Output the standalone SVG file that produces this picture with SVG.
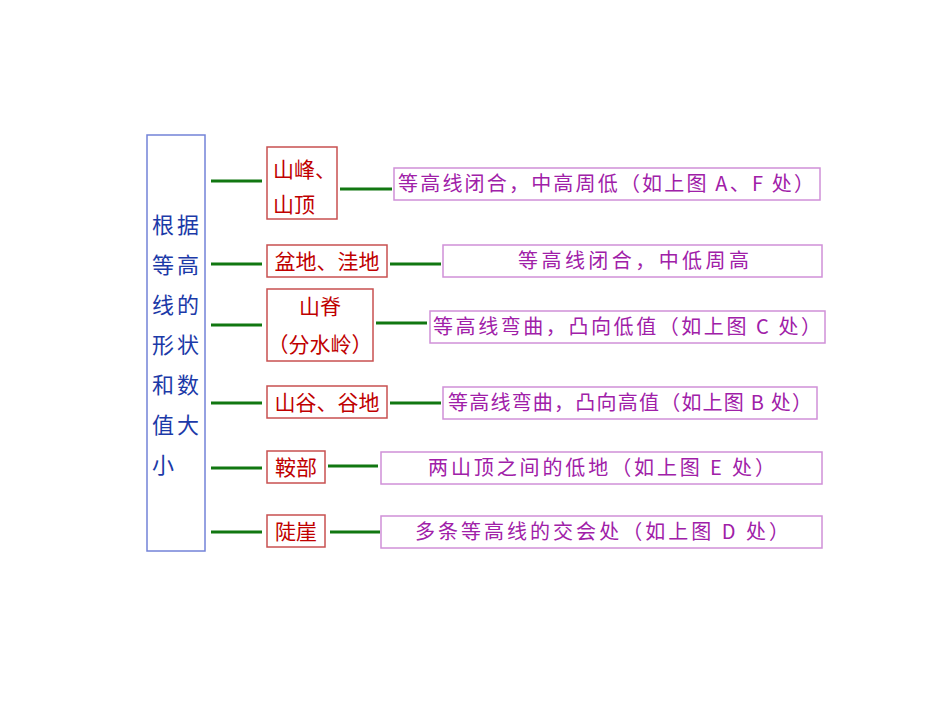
<svg xmlns="http://www.w3.org/2000/svg" width="950" height="713" viewBox="0 0 950 713">
<style>
.bg{fill:#ffffff}
.lbox{fill:#ffffff;stroke:#7383d8;stroke-width:1.5}
.ltxt{font-family:"Noto Sans CJK SC",sans-serif;font-size:22px;fill:#1c3aa8}
.rbox{fill:#ffffff;stroke:#c85050;stroke-width:1.5}
.rtxt{font-family:"Noto Sans CJK SC",sans-serif;font-size:21px;fill:#c00000;text-anchor:middle}
.pbox{fill:#ffffff;stroke:#d090d8;stroke-width:1.5}
.ptxt{font-family:"Noto Sans CJK SC",sans-serif;font-size:20px;fill:#a020a8}
.conn line{stroke:#117711;stroke-width:3}
</style>
<rect class="bg" x="0" y="0" width="950" height="713"/>
<g id="root">
<rect class="lbox" x="147" y="135" width="58" height="416"/>
<text class="ltxt" x="152" y="233" letter-spacing="3">根据</text>
<text class="ltxt" x="152" y="273" letter-spacing="3">等高</text>
<text class="ltxt" x="152" y="313" letter-spacing="3">线的</text>
<text class="ltxt" x="152" y="353" letter-spacing="3">形状</text>
<text class="ltxt" x="152" y="393" letter-spacing="3">和数</text>
<text class="ltxt" x="152" y="433" letter-spacing="3">值大</text>
<text class="ltxt" x="152" y="473" letter-spacing="3">小</text>
</g>
<g id="n1">
<rect class="rbox" x="267" y="147" width="70" height="72"/>
<text class="rtxt" x="273" y="177" style="text-anchor:start">山峰、</text>
<text class="rtxt" x="273" y="212" style="text-anchor:start">山顶</text>
</g>
<g id="n2">
<rect class="rbox" x="267" y="245" width="120" height="32"/>
<text class="rtxt" x="327" y="269">盆地、洼地</text>
</g>
<g id="n3">
<rect class="rbox" x="267" y="289" width="106" height="72"/>
<text class="rtxt" x="320" y="314">山脊</text>
<text class="rtxt" x="320" y="352">（分水岭）</text>
</g>
<g id="n4">
<rect class="rbox" x="267" y="386" width="120" height="32"/>
<text class="rtxt" x="327" y="410">山谷、谷地</text>
</g>
<g id="n5">
<rect class="rbox" x="267" y="451" width="58" height="32"/>
<text class="rtxt" x="296" y="475">鞍部</text>
</g>
<g id="n6">
<rect class="rbox" x="267" y="515" width="58" height="32"/>
<text class="rtxt" x="296" y="539">陡崖</text>
</g>
<g id="d1">
<rect class="pbox" x="394" y="168" width="426" height="32"/>
<text class="ptxt" x="398" y="191" textLength="416" lengthAdjust="spacing">等高线闭合，中高周低（如上图 A、F 处）</text>
</g>
<g id="d2">
<rect class="pbox" x="443" y="245" width="379" height="32"/>
<text class="ptxt" x="518" y="268" textLength="231" lengthAdjust="spacing">等高线闭合，中低周高</text>
</g>
<g id="d3">
<rect class="pbox" x="430" y="311" width="395" height="32"/>
<text class="ptxt" x="433" y="334" textLength="388" lengthAdjust="spacing">等高线弯曲，凸向低值（如上图 C 处）</text>
</g>
<g id="d4">
<rect class="pbox" x="443" y="387" width="374" height="32"/>
<text class="ptxt" x="448" y="410" textLength="364" lengthAdjust="spacing">等高线弯曲，凸向高值（如上图 B 处）</text>
</g>
<g id="d5">
<rect class="pbox" x="381" y="452" width="441" height="32"/>
<text class="ptxt" x="428" y="475" textLength="347" lengthAdjust="spacing">两山顶之间的低地（如上图 E 处）</text>
</g>
<g id="d6">
<rect class="pbox" x="381" y="516" width="441" height="32"/>
<text class="ptxt" x="415" y="539" textLength="374" lengthAdjust="spacing">多条等高线的交会处（如上图 D 处）</text>
</g>
<g class="conn" id="connectors">
<line x1="211" y1="181" x2="262" y2="181"/>
<line x1="211" y1="264" x2="262" y2="264"/>
<line x1="211" y1="325" x2="262" y2="325"/>
<line x1="211" y1="403" x2="262" y2="403"/>
<line x1="211" y1="468" x2="262" y2="468"/>
<line x1="211" y1="532" x2="262" y2="532"/>
<line x1="340" y1="189" x2="392" y2="189"/>
<line x1="390" y1="264" x2="441" y2="264"/>
<line x1="376" y1="323" x2="427" y2="323"/>
<line x1="390" y1="403" x2="441" y2="403"/>
<line x1="328" y1="466" x2="378" y2="466"/>
<line x1="330" y1="532" x2="380" y2="532"/>
</g>
</svg>
